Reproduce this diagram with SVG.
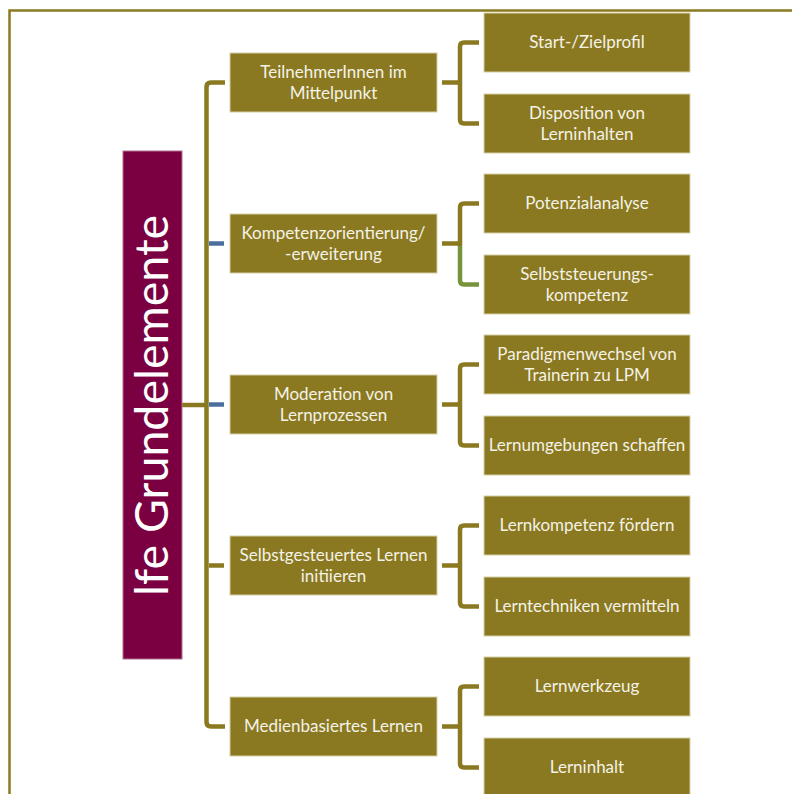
<svg xmlns="http://www.w3.org/2000/svg" width="792" height="794" viewBox="0 0 792 794">
<style>
.frame{fill:none;stroke:#8B7A21;stroke-width:2.5}
.l1,.l2{fill:#8A7921;stroke:#D6CFA8;stroke-width:1}
.root{fill:#7A0041;stroke:#B0708F;stroke-width:1}
.t{font-family:Lato,"Open Sans",sans-serif;font-size:17px;fill:#F4F2E6;text-anchor:middle}
.rt{font-family:Lato,"Open Sans",sans-serif;font-size:46.5px;fill:#FFFFFF;text-anchor:middle}
.c{fill:none;stroke:#8A7921;stroke-width:4.5;stroke-linejoin:round}
.cb{fill:none;stroke:#4A6E9E;stroke-width:4.5}
.cg{fill:none;stroke:#77933C;stroke-width:4.5;stroke-linejoin:round}
</style>
<rect width="792" height="794" fill="#FFFFFF"/>
<path class="frame" d="M9.5,794 V10.5 H792"/>
<g id="connectors">
<path class="c" d="M182,405 H206.5"/>
<path class="c" d="M225,82.5 H211 Q206.5,82.5 206.5,87 V722 Q206.5,726.5 211,726.5 H225"/>
<path class="cb" d="M209,243.5 H224"/>
<path class="cb" d="M209,404.5 H224"/>
<path class="c" d="M209,565.5 H224"/>
<path class="c" d="M442,82.5 H460 M479,42.5 H464 Q460,42.5 460,46.5 V119.5 Q460,123.5 464,123.5 H479"/>
<path class="c" d="M442,243.5 H460 M479,203.5 H464 Q460,203.5 460,207.5 V246"/>
<path class="cg" d="M460,246 V280.5 Q460,284.5 464,284.5 H479"/>
<path class="c" d="M442,404.5 H460 M479,364.5 H464 Q460,364.5 460,368.5 V441.5 Q460,445.5 464,445.5 H479"/>
<path class="c" d="M442,565.5 H460 M479,525.5 H464 Q460,525.5 460,529.5 V602.5 Q460,606.5 464,606.5 H479"/>
<path class="c" d="M442,726.5 H460 M479,686.5 H464 Q460,686.5 460,690.5 V763.5 Q460,767.5 464,767.5 H479"/>
</g>
<g id="root">
<rect class="root" x="123" y="151" width="59" height="508"/>
<text class="rt" transform="translate(168,405.5) rotate(-90)">lfe Grundelemente</text>
</g>
<g id="n1"><rect class="l1" x="230" y="53" width="207" height="59"/><text class="t" x="333.5" y="78">TeilnehmerInnen im</text><text class="t" x="333.5" y="99">Mittelpunkt</text></g>
<g id="n2"><rect class="l1" x="230" y="214" width="207" height="59"/><text class="t" x="333.5" y="239">Kompetenzorientierung/</text><text class="t" x="333.5" y="260">-erweiterung</text></g>
<g id="n3"><rect class="l1" x="230" y="375" width="207" height="59"/><text class="t" x="333.5" y="400">Moderation von</text><text class="t" x="333.5" y="421">Lernprozessen</text></g>
<g id="n4"><rect class="l1" x="230" y="536" width="207" height="59"/><text class="t" x="333.5" y="561">Selbstgesteuertes Lernen</text><text class="t" x="333.5" y="582">initiieren</text></g>
<g id="n5"><rect class="l1" x="230" y="697" width="207" height="59"/><text class="t" x="333.5" y="732">Medienbasiertes Lernen</text></g>
<g id="n1a"><rect class="l2" x="484" y="13" width="206" height="59"/><text class="t" x="587" y="48">Start-/Zielprofil</text></g>
<g id="n1b"><rect class="l2" x="484" y="94" width="206" height="59"/><text class="t" x="587" y="119">Disposition von</text><text class="t" x="587" y="140">Lerninhalten</text></g>
<g id="n2a"><rect class="l2" x="484" y="174" width="206" height="59"/><text class="t" x="587" y="209">Potenzialanalyse</text></g>
<g id="n2b"><rect class="l2" x="484" y="255" width="206" height="59"/><text class="t" x="587" y="280">Selbststeuerungs-</text><text class="t" x="587" y="301">kompetenz</text></g>
<g id="n3a"><rect class="l2" x="484" y="335" width="206" height="59"/><text class="t" x="587" y="360">Paradigmenwechsel von</text><text class="t" x="587" y="381">Trainerin zu LPM</text></g>
<g id="n3b"><rect class="l2" x="484" y="416" width="206" height="59"/><text class="t" x="587" y="451">Lernumgebungen schaffen</text></g>
<g id="n4a"><rect class="l2" x="484" y="496" width="206" height="59"/><text class="t" x="587" y="531">Lernkompetenz fördern</text></g>
<g id="n4b"><rect class="l2" x="484" y="577" width="206" height="59"/><text class="t" x="587" y="612">Lerntechniken vermitteln</text></g>
<g id="n5a"><rect class="l2" x="484" y="657" width="206" height="59"/><text class="t" x="587" y="692">Lernwerkzeug</text></g>
<g id="n5b"><rect class="l2" x="484" y="738" width="206" height="59"/><text class="t" x="587" y="773">Lerninhalt</text></g>
</svg>
